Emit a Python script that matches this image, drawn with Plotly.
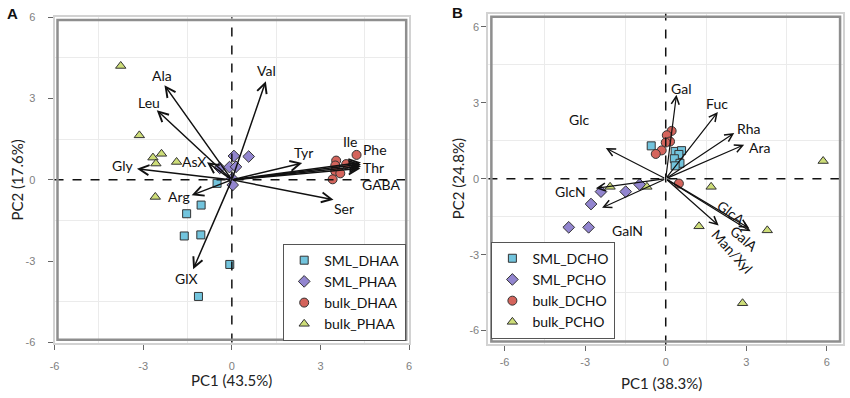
import plotly.graph_objects as go

# ---------------- Panel A (amino acids) ----------------
A_sml_dhaa_x = [-0.50, -1.04, -1.53, -1.61, -1.05, -0.07, -1.13]
A_sml_dhaa_y = [-0.13, -0.93, -1.25, -2.07, -2.03, -3.12, -4.30]
A_sml_phaa_x = [0.07, 0.57, -0.41, -0.08, 0.14, 0.01, 0.03]
A_sml_phaa_y = [0.88, 0.86, 0.44, 0.47, 0.48, 0.05, -0.19]
A_bulk_dhaa_x = [4.22, 3.53, 3.87, 3.50, 3.50, 3.67, 3.41]
A_bulk_dhaa_y = [0.92, 0.71, 0.58, 0.53, 0.32, 0.24, 0.02]
A_bulk_phaa_x = [-3.76, -3.13, -2.67, -2.38, -2.57, -1.87, -2.59]
A_bulk_phaa_y = [4.20, 1.64, 0.82, 0.96, 0.60, 0.66, -0.63]

A_vars = ["Ala", "Leu", "Val", "Gly", "AsX", "Tyr", "Ile", "Phe", "Thr", "GABA", "Ser", "Arg", "GlX"]
A_load_x = [-2.28, -2.54, 1.15, -3.21, -0.84, 2.38, 4.37, 4.37, 4.37, 4.35, 3.44, -1.36, -1.31]
A_load_y = [3.49, 2.57, 3.64, 0.41, 0.65, 0.62, 0.64, 0.57, 0.50, 0.42, -0.73, -0.57, -3.30]
A_label_x = [-2.37, -2.80, 1.17, -3.71, -1.27, 2.44, 4.00, 4.85, 4.78, 5.08, 3.81, -1.79, -1.52]
A_label_y = [3.85, 2.87, 4.03, 0.53, 0.66, 1.00, 1.42, 1.12, 0.44, -0.18, -1.05, -0.63, -3.62]

# ---------------- Panel B (carbohydrates) ----------------
B_sml_dcho_x = [-0.54, 0.35, 0.59, 0.49, 0.32, 0.53, 0.35]
B_sml_dcho_y = [1.30, 1.08, 1.11, 0.96, 0.79, 0.61, 0.51]
B_sml_pcho_x = [-0.97, -1.49, -2.41, -2.78, -3.61, -2.87]
B_sml_pcho_y = [-0.23, -0.51, -0.51, -1.00, -1.92, -1.92]
B_bulk_dcho_x = [0.22, 0.04, 0.16, 0.00, -0.15, -0.37, 0.49]
B_bulk_dcho_y = [1.89, 1.72, 1.47, 1.43, 1.12, 0.98, -0.19]
B_bulk_pcho_x = [-2.07, -0.70, 1.69, 5.86, 1.24, 3.78, 2.86]
B_bulk_pcho_y = [-0.32, -0.32, -0.32, 0.70, -1.88, -2.04, -4.92]

B_vars = ["Gal", "Fuc", "Rha", "Ara", "Glc", "GlcN", "GalN", "GlcA", "GalA", "Man/Xyl"]
B_load_x = [0.40, 1.94, 2.55, 2.92, -2.23, -2.60, -2.37, 3.10, 3.16, 1.97]
B_load_y = [3.32, 2.64, 1.81, 1.34, 1.21, -0.38, -1.15, -1.95, -2.08, -1.85]
B_label_x = [0.58, 1.91, 3.08, 3.49, -3.21, -3.55, -1.43, 2.43, 2.92, 2.49]
B_label_y = [3.57, 2.97, 2.00, 1.25, 2.36, -0.51, -2.05, -1.34, -2.36, -2.87]
B_label_angle = [0, 0, 0, 0, 0, 0, 0, 37, 41, 48]

# ---------------- styling ----------------
FONT = "Lato"
C_SQ = "#72c4dd"
C_DI = "#9285cf"
C_CI = "#d4645c"
C_TR = "#cddd78"
EDGE = dict(color="#333333", width=1)

fig = go.Figure()

def add_group(x, y, name, color, symbol, size, xa, ya, legend):
    fig.add_trace(go.Scatter(
        x=x, y=y, mode="markers", name=name, xaxis=xa, yaxis=ya, legend=legend,
        marker=dict(color=color, symbol=symbol, size=size, line=EDGE),
        showlegend=True,
    ))

add_group(A_sml_dhaa_x, A_sml_dhaa_y, "SML_DHAA", C_SQ, "square", 8, "x", "y", "legend")
add_group(A_sml_phaa_x, A_sml_phaa_y, "SML_PHAA", C_DI, "diamond", 9, "x", "y", "legend")
add_group(A_bulk_dhaa_x, A_bulk_dhaa_y, "bulk_DHAA", C_CI, "circle", 9, "x", "y", "legend")
add_group(A_bulk_phaa_x, A_bulk_phaa_y, "bulk_PHAA", C_TR, "triangle-up", 9, "x", "y", "legend")

add_group(B_sml_dcho_x, B_sml_dcho_y, "SML_DCHO", C_SQ, "square", 8, "x2", "y2", "legend2")
add_group(B_sml_pcho_x, B_sml_pcho_y, "SML_PCHO", C_DI, "diamond", 9, "x2", "y2", "legend2")
add_group(B_bulk_dcho_x, B_bulk_dcho_y, "bulk_DCHO", C_CI, "circle", 9, "x2", "y2", "legend2")
add_group(B_bulk_pcho_x, B_bulk_pcho_y, "bulk_PCHO", C_TR, "triangle-up", 9, "x2", "y2", "legend2")

annotations = []
for lx, ly in zip(A_load_x, A_load_y):
    annotations.append(dict(x=lx, y=ly, ax=0, ay=0, xref="x", yref="y", axref="x", ayref="y",
                            text="", showarrow=True, arrowhead=5, arrowsize=1.3,
                            arrowwidth=1.5, arrowcolor="#111111"))
for name, tx, ty in zip(A_vars, A_label_x, A_label_y):
    annotations.append(dict(x=tx, y=ty, xref="x", yref="y", text=name, showarrow=False,
                            xanchor="center", yanchor="middle", borderpad=0,
                            font=dict(family=FONT, size=14, color="#111111")))
for lx, ly in zip(B_load_x, B_load_y):
    annotations.append(dict(x=lx, y=ly, ax=0, ay=0, xref="x2", yref="y2", axref="x2", ayref="y2",
                            text="", showarrow=True, arrowhead=5, arrowsize=1.3,
                            arrowwidth=1.2, arrowcolor="#111111"))
for name, tx, ty, ang in zip(B_vars, B_label_x, B_label_y, B_label_angle):
    annotations.append(dict(x=tx, y=ty, xref="x2", yref="y2", text=name, showarrow=False,
                            xanchor="center", yanchor="middle", textangle=ang, borderpad=0,
                            font=dict(family=FONT, size=14, color="#111111")))

# axis titles and panel letters
title_font = dict(family=FONT, size=15, color="#222222")
def paper_text(px, py, text, font, angle=0):
    return dict(x=px/850, y=1-py/398, xref="paper", yref="paper", text=text, showarrow=False,
                xanchor="center", yanchor="middle", textangle=angle, font=font, borderpad=0)

letter_font = dict(family="Liberation Sans", size=15, color="#111111")
annotations += [
    paper_text(229, 386, "PC1 (43.5%)", title_font),
    paper_text(12, 179, "PC2 (17.6%)", title_font, -90),
    paper_text(663, 389, "PC1 (38.3%)", title_font),
    paper_text(457, 178, "PC2 (24.8%)", title_font, -90),
    paper_text(8, 8, "<b>A</b>", letter_font),
    paper_text(457, 7, "<b>B</b>", letter_font),
]

shapes = []
for xr, yr in (("x", "y"), ("x2", "y2")):
    shapes.append(dict(type="line", xref=xr, yref=yr + " domain", x0=0, x1=0, y0=0, y1=1,
                       line=dict(color="#111111", width=1.5, dash="dash"), layer="above"))
    shapes.append(dict(type="line", xref=xr + " domain", yref=yr, x0=0, x1=1, y0=0, y1=0,
                       line=dict(color="#111111", width=1.5, dash="dash"), layer="above"))
# inner dark frame line (double-line border)
for xr, yr, ix, iy in (("x", "y", 3/358, 3/335.5), ("x2", "y2", 3/358, 3/341)):
    shapes.append(dict(type="rect", xref=xr + " domain", yref=yr + " domain",
                       x0=ix, x1=1-ix, y0=iy, y1=1-iy,
                       line=dict(color="#8e8e8e", width=2.5), fillcolor="rgba(0,0,0,0)", layer="above"))

minor_vals = [-4.5, -1.5, 1.5, 4.5]
tick_vals = [-6, -3, 0, 3, 6]

def axis(domain, rng, standoff):
    return dict(domain=domain, range=rng, tickvals=tick_vals, ticktext=[str(v) for v in tick_vals],
                showgrid=False, zeroline=False, showline=True, mirror=True,
                linecolor="#d2d2d2", linewidth=2, ticks="outside", ticklen=5, tickcolor="#666666",
                tickwidth=1, tickfont=dict(family="Liberation Sans", size=11, color="#808080"),
                ticklabelstandoff=standoff,
                minor=dict(tickvals=minor_vals, showgrid=True, gridcolor="#ebebeb", gridwidth=1, ticks=""))

legend_style = dict(bgcolor="white", bordercolor="#555555", borderwidth=1,
                    font=dict(family=FONT, size=14, color="#111111"), itemwidth=30, tracegroupgap=0)

fig.update_layout(
    width=850, height=398,
    margin=dict(l=0, r=0, t=0, b=0),
    paper_bgcolor="white", plot_bgcolor="white",
    xaxis=dict(axis([50/850, 408/850], [-6, 6], 7), anchor="y"),
    yaxis=dict(axis([1-347/398, 1-11.5/398], [-6, 6], 10), anchor="x"),
    xaxis2=dict(axis([488/850, 846/850], [-6.6, 6.6], 1), anchor="y2"),
    yaxis2=dict(axis([1-349/398, 1-8/398], [-6.55, 6.52], 0), anchor="x2"),
    annotations=annotations,
    shapes=shapes,
    legend=dict(x=405/850, y=1-345/398, xanchor="right", yanchor="bottom", **legend_style),
    legend2=dict(x=491/850, y=1-343/398, xanchor="left", yanchor="bottom", **legend_style),
)

fig.write_html("out.html", config={"displayModeBar": False},
               post_script="document.body.style.margin='0';")
